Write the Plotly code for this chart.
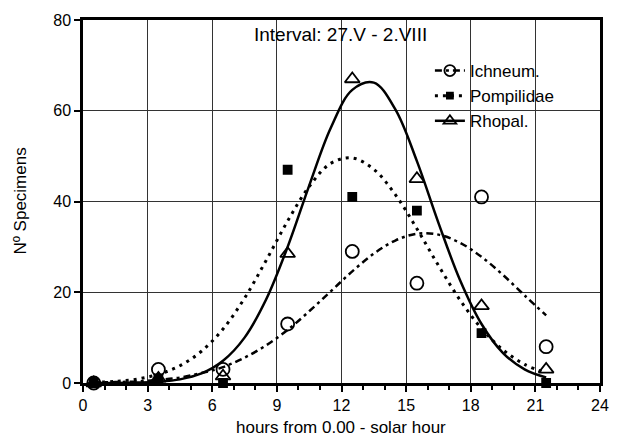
import plotly.graph_objects as go

# observed points
hours = [0.5, 3.5, 6.5, 9.5, 12.5, 15.5, 18.5, 21.5]
ichneum = [0, 3, 3, 13, 29, 22, 41, 8]
pompilidae = [0, 1, 0, 47, 41, 38, 11, 0]
rhopal = [0, 1, 1.5, 28.5, 67, 45, 17, 3]

# fitted curves
curve_hours = [0.5, 1.5, 2.5, 3.5, 4.5, 5.5, 6.5, 7.5, 8.5, 9.5, 10.5,
               11.5, 12.5, 13.5, 14.5, 15.5, 16.5, 17.5, 18.5, 19.5, 20.5, 21.5]
ichneum_fit = [0.1, 0.2, 0.35, 0.7, 1.2, 2.2, 3.5, 5.6, 8.3, 11.7, 15.8,
               20.2, 24.6, 28.5, 31.4, 32.9, 32.7, 30.9, 27.8, 23.8, 19.3, 14.9]
pompilidae_fit = [0.15, 0.35, 0.85, 1.9, 3.8, 7.0, 11.9, 18.7, 27.0, 35.7, 43.3,
                  48.4, 49.6, 47.1, 41.5, 34.0, 25.9, 18.3, 12.0, 7.3, 4.1, 2.2]
rhopal_fit = [0.0, 0.02, 0.09, 0.28, 0.8, 2.1, 4.9, 10.0, 18.4, 30.0, 43.5,
              56.2, 64.6, 66.2, 60.3, 48.9, 35.3, 22.7, 13.0, 6.6, 3.0, 1.2]

names = ["Ichneum.", "Pompilidae", "Rhopal."]
x_ticks = [0, 3, 6, 9, 12, 15, 18, 21, 24]
y_ticks = [0, 20, 40, 60, 80]

FONT = "Liberation Sans, Arial, sans-serif"
dashes = ["7px,4px,3px,4px", "3px,5px", "solid"]
widths = [2.5, 3, 2.5]
symbols = ["circle-open", "square", "triangle-up-open"]
sizes = [13, 8, 13]

fig = go.Figure()
fits = [ichneum_fit, pompilidae_fit, rhopal_fit]
pts = [ichneum, pompilidae, rhopal]

for i in range(3):
    fig.add_trace(go.Scatter(x=curve_hours, y=fits[i], mode="lines",
                             line=dict(color="black", width=widths[i], dash=dashes[i], shape="spline"),
                             showlegend=False, hoverinfo="skip"))
for i in range(3):
    fig.add_trace(go.Scatter(x=hours, y=pts[i], mode="markers", cliponaxis=False,
                             marker=dict(symbol=symbols[i], size=sizes[i], color="black",
                                         line=dict(color="black", width=1.8)),
                             showlegend=False))
for i in range(3):
    fig.add_trace(go.Scatter(x=[None], y=[None], mode="lines+markers", name=names[i],
                             line=dict(color="black", width=widths[i], dash=dashes[i]),
                             marker=dict(symbol=symbols[i], size=sizes[i] - 2, color="black",
                                         line=dict(color="black", width=1.8))))

axis_common = dict(showline=True, linecolor="black", linewidth=2.5, mirror=True,
                   showgrid=True, gridcolor="#333333", gridwidth=1.2,
                   ticks="outside", ticklen=6, tickwidth=2, tickcolor="black",
                   zeroline=False, tickfont=dict(family=FONT, size=16, color="black"))

fig.update_xaxes(range=[0, 24], tickvals=x_ticks, **axis_common,
                 minor=dict(ticks="outside", dtick=1, ticklen=4, tickwidth=2,
                            tickcolor="black", showgrid=False))
fig.update_yaxes(range=[0, 80], tickvals=y_ticks, **axis_common)

fig.update_layout(
    width=621, height=439,
    margin=dict(l=83, r=20, t=13, b=56),
    paper_bgcolor="white", plot_bgcolor="white",
    showlegend=True,
    legend=dict(x=0.671, y=0.909, xanchor="left", yanchor="top",
                bgcolor="rgba(0,0,0,0)", font=dict(family=FONT, size=17, color="black"),
                itemwidth=30, tracegroupgap=0),
    annotations=[
        dict(text="Interval: 27.V - 2.VIII", xref="paper", yref="paper",
             x=(341 - 83) / 518, y=(383 - 28) / 370, showarrow=False,
             font=dict(family=FONT, size=19, color="black"), xanchor="center", yanchor="middle"),
        dict(text="hours from 0.00 - solar hour", xref="paper", yref="paper",
             x=(341 - 83) / 518, y=(383 - 428) / 370, showarrow=False,
             font=dict(family=FONT, size=17, color="black"), xanchor="center", yanchor="middle"),
        dict(text="Nº Specimens", xref="paper", yref="paper",
             x=(20 - 83) / 518, y=0.5, showarrow=False, textangle=-90,
             font=dict(family=FONT, size=17, color="black"), xanchor="center", yanchor="middle"),
    ],
)

fig.write_html("out.html")
